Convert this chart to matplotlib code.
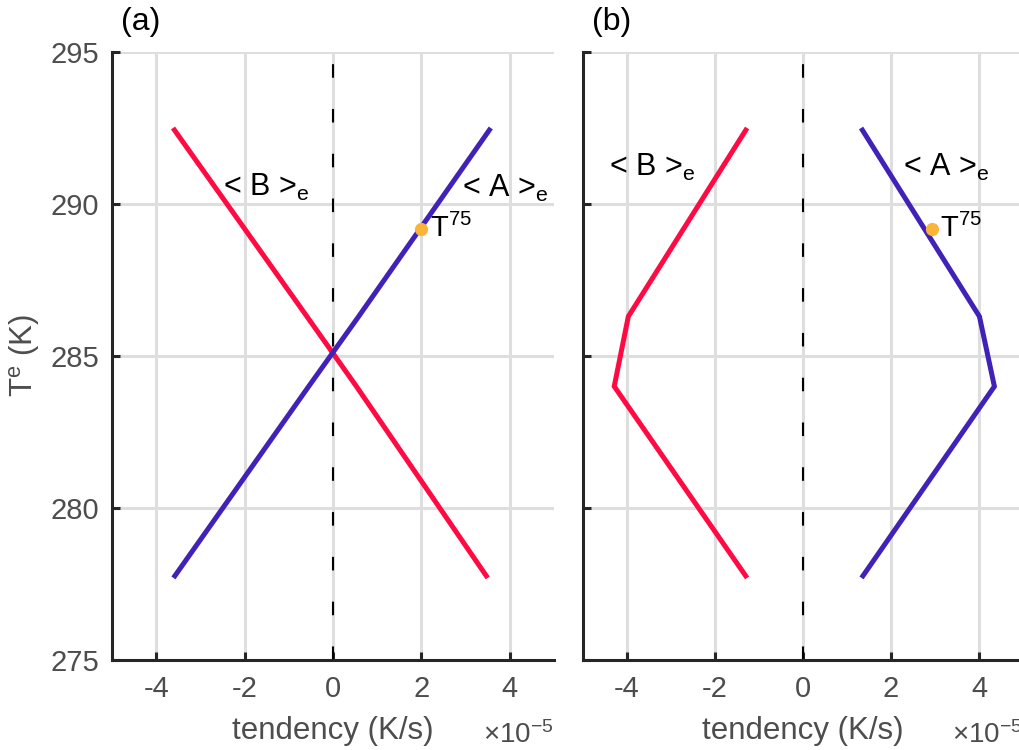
import matplotlib
matplotlib.use("Agg")
import matplotlib.pyplot as plt

# ---- data ----
te_levels = [277.7, 284.0, 286.3, 292.5]
a_left = [-3.61, -0.55, 0.58, 3.57]
b_left = [3.50, 0.53, -0.59, -3.62]
a_right = [1.33, 4.35, 4.01, 1.32]
b_right = [-1.27, -4.29, -3.97, -1.27]
t75_te = 289.18
t75_left = 2.0
t75_right = 2.94

xticks = [-4, -2, 0, 2, 4]
yticks = [275, 280, 285, 290, 295]
panel_labels = ["(a)", "(b)"]

plt.rcParams['font.family'] = ['Liberation Sans', 'DejaVu Sans']
plt.rcParams['mathtext.fontset'] = 'custom'
plt.rcParams['mathtext.rm'] = 'Liberation Sans'
plt.rcParams['mathtext.it'] = 'Liberation Sans'
plt.rcParams['mathtext.bf'] = 'Liberation Sans:bold'
plt.rcParams['axes.unicode_minus'] = False

RED = '#FF0A42'
BLUE = '#4022B8'
ORANGE = '#FBB43A'
GRAY = '#4D4D4D'
SPINE = '#262626'

fig = plt.figure(figsize=(10.2, 7.5), dpi=100)
W, H = 1020.0, 750.0
ax1 = fig.add_axes([112 / W, 1 - 660 / H, 442 / W, 608 / H])
ax2 = fig.add_axes([583 / W, 1 - 660 / H, 440 / W, 608 / H])

panels = [
    (ax1, a_left, b_left, t75_left, panel_labels[0],
     (-2.48, 290.55), (2.92, 290.5), (2.2, 289.2)),
    (ax2, a_right, b_right, t75_right, panel_labels[1],
     (-4.41, 291.2), (2.27, 291.2), (3.12, 289.2)),
]

for i, (ax, a_vals, b_vals, t75x, plab, bpos, apos, tpos) in enumerate(panels):
    ax.set_xlim(-5, 5)
    ax.set_ylim(275, 295)
    ax.set_xticks(xticks)
    ax.set_yticks(yticks)
    ax.grid(True, color='#DEDEDE', linewidth=2.2, zorder=0)
    ax.set_axisbelow(True)
    for s in ['top', 'right']:
        ax.spines[s].set_visible(False)
    for s in ['left', 'bottom']:
        ax.spines[s].set_linewidth(2.2)
        ax.spines[s].set_color(SPINE)
    ax.tick_params(direction='in', length=6, width=2.2, color=SPINE,
                   labelsize=21, labelcolor=GRAY)
    ax.tick_params(axis='x', pad=11)
    ax.tick_params(axis='y', pad=9)
    if i == 1:
        ax.tick_params(axis='y', labelleft=False)
    ax.axvline(0, color='black', linewidth=1.5, dashes=(6.5, 15), zorder=2)

    ax.plot(b_vals, te_levels, color=RED, linewidth=3.6, zorder=3,
            solid_capstyle='butt', solid_joinstyle='miter')
    ax.plot(a_vals, te_levels, color=BLUE, linewidth=3.6, zorder=3,
            solid_capstyle='butt', solid_joinstyle='miter')
    ax.plot([t75x], [t75_te], 'o', color=ORANGE, markersize=9.5,
            markeredgewidth=0, zorder=4)

    ax.text(bpos[0], bpos[1], r'< B >$_\mathrm{e}$', fontsize=22,
            color='black', va='center', ha='left', zorder=5)
    ax.text(apos[0], apos[1], r'< A >$_\mathrm{e}$', fontsize=22,
            color='black', va='center', ha='left', zorder=5)
    ax.text(tpos[0], tpos[1], r'$\mathrm{T^{75}}$', fontsize=21,
            color='black', va='center', ha='left', zorder=5)

    ax.set_xlabel('tendency (K/s)', fontsize=22.5, color=GRAY, labelpad=9)
    ax.text(1.0, -0.123, r'$\times\mathrm{10^{-5}}$', transform=ax.transAxes,
            ha='right', va='center', fontsize=20, color=GRAY)
    ax.text(0.02, 1.049, plab, transform=ax.transAxes, ha='left',
            va='center', fontsize=23, color='black')

ax1.set_ylabel(r'$\mathrm{T^e}$ (K)', fontsize=22.5, color=GRAY, labelpad=6)

fig.savefig('out.png', dpi=100)
